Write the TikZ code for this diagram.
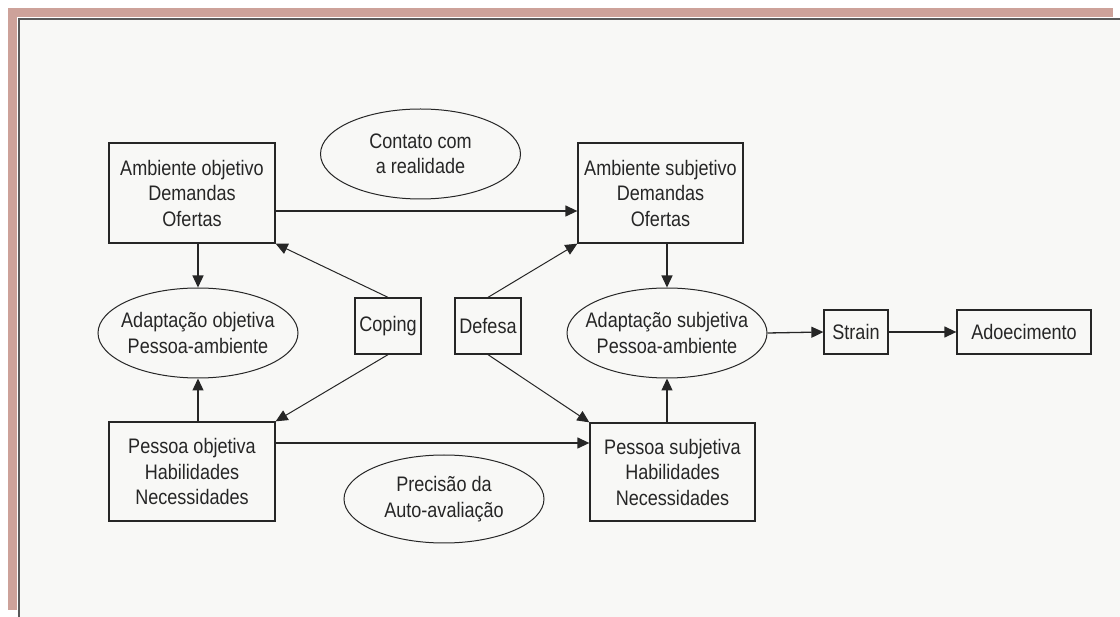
\documentclass[tikz,border=0pt]{standalone}
\usepackage{fontspec}
\setmainfont{Liberation Sans}[FakeStretch=0.86]
\usetikzlibrary{arrows.meta,shapes.geometric}

\definecolor{ink}{HTML}{262626}
\definecolor{paper}{HTML}{F8F8F6}
\definecolor{frameband}{HTML}{CDA29A}
\definecolor{frameline}{HTML}{5A5A5A}

\newcommand\dfont{\fontsize{21}{25.5}\selectfont}

\begin{document}
\begin{tikzpicture}[x=1pt,y=-1pt,
  box/.style={draw=ink, line width=1.3pt, rectangle, inner sep=0pt,
              align=center, font=\dfont, text=ink},
  oval/.style={draw=ink, line width=1pt, ellipse, inner xsep=-35pt, inner ysep=-12pt,
               minimum width=200pt, minimum height=90pt,
               align=center, font=\dfont, text=ink},
  link/.style={draw=ink, line width=1.3pt, -{Triangle[length=12pt,width=11pt]}},
  slant/.style={draw=ink, line width=1pt, -{Triangle[length=12pt,width=11pt]}}
]
\useasboundingbox (0,0) rectangle (1120,617);

% page background and window frame
\fill[white] (0,0) rectangle (1120,617);
\fill[paper] (18,18) rectangle (1120,617);
\fill[frameband] (8,8) rectangle (1113,17);
\fill[frameband] (8,8) rectangle (17,610);
\draw[frameline, line width=2pt] (1120,19) -- (19,19) -- (19,617);

% nodes
\node[box, minimum width=166pt, minimum height=100pt] (ao) at (192,193)
  {Ambiente objetivo\\Demandas\\Ofertas};
\node[box, minimum width=165pt, minimum height=100pt] (as) at (660.5,193)
  {Ambiente subjetivo\\Demandas\\Ofertas};
\node[oval] (co) at (420.5,154) {Contato com\\a realidade};
\node[oval] (ado) at (198,333) {Adaptação objetiva\\Pessoa-ambiente};
\node[oval] (ads) at (667,333) {Adaptação subjetiva\\Pessoa-ambiente};
\node[box, minimum width=66pt, minimum height=56pt] (cop) at (388,326) {Coping};
\node[box, minimum width=66pt, minimum height=56pt] (def) at (488,326) {Defesa};
\node[box, minimum width=166pt, minimum height=99pt] (po) at (192,471.5)
  {Pessoa objetiva\\Habilidades\\Necessidades};
\node[box, minimum width=165pt, minimum height=98pt] (ps) at (672.5,472)
  {Pessoa subjetiva\\Habilidades\\Necessidades};
\node[oval, minimum height=88pt] (pr) at (444,499) {Precisão da\\Auto-avaliação};
\node[box, minimum width=64pt, minimum height=44pt] (st) at (856,332) {Strain};
\node[box, minimum width=134pt, minimum height=44pt] (ad) at (1024,332) {Adoecimento};

% connectors
\draw[link] (ao.east |- 0,211) -- (as.west |- 0,211);
\draw[link] (po.east |- 0,443) -- (ps.west |- 0,443);
\draw[link] (ao.south -| ado.north) -- (ado.north);
\draw[link] (po.north -| ado.south) -- (ado.south);
\draw[link] (as.south -| ads.north) -- (ads.north);
\draw[link] (ps.north -| ads.south) -- (ads.south);
\draw[link] (ads.east) -- (st.west);
\draw[link] (st.east) -- (ad.west);
\draw[slant] (cop.north) -- (ao.south east);
\draw[slant] (cop.south) -- (po.north east);
\draw[slant] (def.north) -- (as.south west);
\draw[slant] (def.south) -- (ps.north west);
\end{tikzpicture}
\end{document}
